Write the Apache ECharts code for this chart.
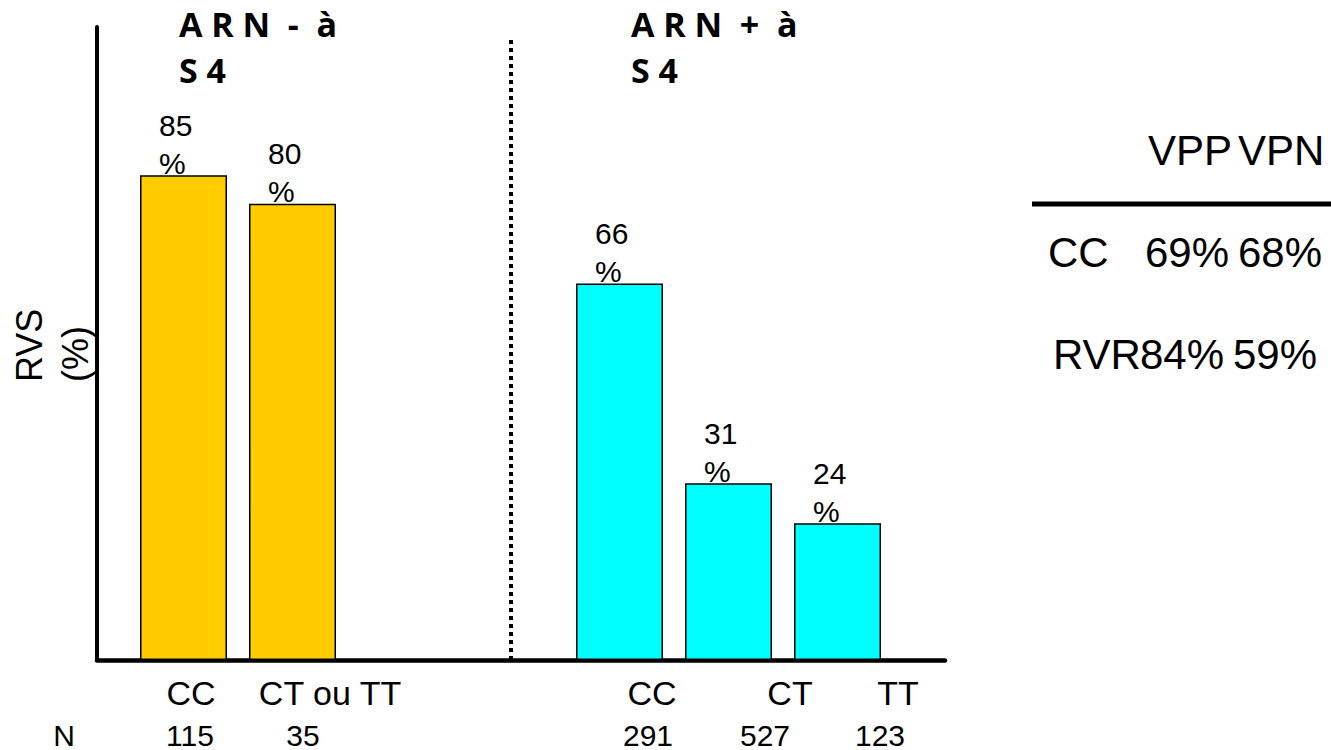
<!DOCTYPE html>
<html>
<head>
<meta charset="utf-8">
<title>RVS selon le génotype</title>
<script src="https://cdn.jsdelivr.net/npm/echarts@6/dist/echarts.min.js"></script>
<style>
html, body { margin: 0; padding: 0; background: #fff; }
#main { width: 1331px; height: 750px; }
</style>
</head>
<body>
<div id="main"></div>
<script>
// génotypes et RVS (%)
var genotypes = ['CC', 'CT ou TT', 'CC', 'CT', 'TT'];
var rvs = [85, 80, 66, 31, 24];
var effectifs = ['115', '35', '291', '527', '123'];
var groupeBarre = [0, 0, 1, 1, 1];
// colonne de chaque barre sur l'axe x (la colonne 3 = séparateur)
var colonnes = [0, 1, 4, 5, 6];
var separateur = 3;
var groupes = ['A\u00a0R\u00a0N\u00a0\u00a0-\u00a0\u00a0à\nS\u00a04', 'A\u00a0R\u00a0N\u00a0\u00a0+\u00a0\u00a0à\nS\u00a04'];

// petit tableau à droite
var tabEntetes = ['VPP', 'VPN'];
var tabLignes = ['CC', 'RVR'];
var tabVPP = ['69%', '84%'];
var tabVPN = ['68%', '59%'];

var couleurs = ['#FFCC00', '#00FFFF'];
var police = '"Liberation Sans", Arial, sans-serif';

// positions des textes (px)
var xGenotypes = [191, 330, 652, 790, 898];
var xEffectifs = [190, 303, 648, 765, 880];
var xGroupes = [179, 631];

function texte(x, y, s, o) {
  o = o || {};
  return {
    type: 'text', x: x, y: y, silent: true, rotation: o.rotation || 0,
    style: {
      text: s, fill: '#000',
      fontSize: o.size || 30, fontFamily: o.family || police, fontWeight: o.weight || 'normal',
      lineHeight: o.lineHeight, align: o.align || 'center', verticalAlign: o.valign || 'middle',
      textAlign: o.align || 'center', textVerticalAlign: o.valign || 'middle'
    }
  };
}

var elements = [];
genotypes.forEach(function (g, i) {
  elements.push(texte(xGenotypes[i], 693, g, { size: 34 }));
  elements.push(texte(xEffectifs[i], 735, effectifs[i], { size: 30 }));
});
elements.push(texte(64, 735, 'N', { size: 30 }));
groupes.forEach(function (g, i) {
  elements.push(texte(xGroupes[i], 1, g, { size: 34, weight: 'bold', family: '"Open Sans", sans-serif', lineHeight: 46, align: 'left', valign: 'top' }));
});
// titre de l'axe y
elements.push(texte(6, 382, 'RVS\n(%)', { size: 36, lineHeight: 46, align: 'left', valign: 'top', rotation: Math.PI / 2 }));
// tableau
elements.push(texte(1148, 150, tabEntetes[0], { size: 42, align: 'left' }));
elements.push(texte(1238, 150, tabEntetes[1], { size: 42, align: 'left' }));
elements.push({ type: 'line', silent: true, shape: { x1: 1032, y1: 204, x2: 1331, y2: 204 }, style: { stroke: '#000', lineWidth: 5 } });
var xCol2 = [1145, 1140], xCol3 = [1238, 1233], yLig = [252, 354], xCol1 = [1048, 1053];
tabLignes.forEach(function (l, i) {
  elements.push(texte(xCol1[i], yLig[i], l, { size: 42, align: 'left' }));
  elements.push(texte(xCol2[i], yLig[i], tabVPP[i], { size: 42, align: 'left' }));
  elements.push(texte(xCol3[i], yLig[i], tabVPN[i], { size: 42, align: 'left' }));
});

var barres = rvs.map(function (v, i) {
  return {
    value: [colonnes[i], v],
    itemStyle: { color: couleurs[groupeBarre[i]] }
  };
});

var chart = echarts.init(document.getElementById('main'), null, { renderer: 'svg' });
chart.setOption({
  animation: false,
  backgroundColor: '#fff',
  grid: { left: 97, right: 386, top: 27, bottom: 90, containLabel: false, outerBoundsMode: 'none' },
  xAxis: {
    type: 'value', min: -0.7936, max: 6.986,
    axisLine: { show: true, onZero: false, lineStyle: { color: '#000', width: 4.5 } },
    axisTick: { show: false }, axisLabel: { show: false }, splitLine: { show: false }
  },
  yAxis: {
    type: 'value', min: 0, max: 111,
    axisLine: { show: true, onZero: false, lineStyle: { color: '#000', width: 4 } },
    axisTick: { show: false }, axisLabel: { show: false }, splitLine: { show: false }
  },
  series: [{
    type: 'bar',
    barWidth: 87,
    data: barres,
    itemStyle: { borderColor: '#000', borderWidth: 1.5 },
    label: {
      show: true,
      position: [19, -69],
      align: 'left', verticalAlign: 'top',
      fontSize: 30, lineHeight: 38, color: '#000', fontFamily: police,
      formatter: function (p) { return p.value[1] + '\n%'; }
    },
    markLine: {
      silent: true, symbol: ['none', 'none'],
      label: { show: false },
      lineStyle: { color: '#000', width: 4, type: [4, 4] },
      data: [[{ coord: [separateur, 0] }, { coord: [separateur, 109] }]]
    }
  }],
  graphic: elements
});
</script>
</body>
</html>
